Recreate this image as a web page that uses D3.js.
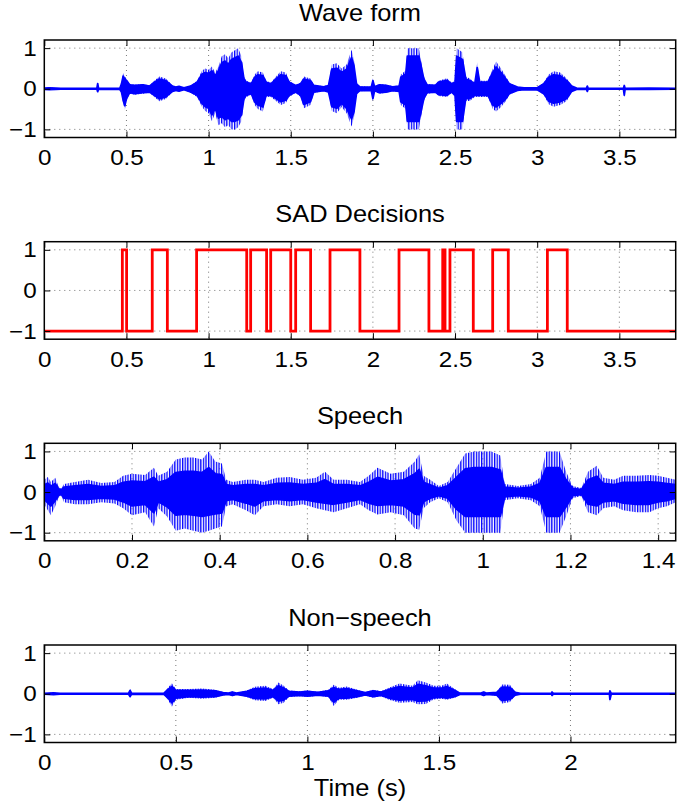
<!DOCTYPE html>
<html><head><meta charset="utf-8">
<script src="https://cdn.jsdelivr.net/npm/d3@7"></script>
<style>
html,body{margin:0;padding:0;background:#fff;}
svg{display:block;}
text{font-family:"Liberation Sans",Arial,Helvetica,sans-serif;fill:#000;}
</style></head>
<body><svg id="chart" width="677" height="807"></svg>
<script>
// ---------------- DATA ----------------
const titles = ["Wave form", "SAD Decisions", "Speech", "Non\u2212speech"];
const xMax = [3.843, 3.843, 1.44, 2.40];
const xTicks1 = [0, 0.5, 1, 1.5, 2, 2.5, 3, 3.5];
const xTicks2 = [0, 0.5, 1, 1.5, 2, 2.5, 3, 3.5];
const xTicks3 = [0, 0.2, 0.4, 0.6, 0.8, 1, 1.2, 1.4];
const xTicks4 = [0, 0.5, 1, 1.5, 2];
const yTicks = [-1, 0, 1];
const xLabel = "Time (s)";

// Wave form envelope (time, upper, lower)
const waveT  = [0,0.03,0.07,0.10,0.32,0.325,0.33,0.46,0.47,0.48,0.49,0.50,0.52,0.55,0.60,0.64,0.67,0.70,0.74,0.78,0.80,0.82,0.85,0.89,0.93,0.96,0.98,1.00,1.02,1.04,1.06,1.08,1.10,1.12,1.14,1.16,1.18,1.20,1.215,1.23,1.26,1.28,1.30,1.33,1.35,1.38,1.41,1.44,1.47,1.49,1.53,1.56,1.58,1.62,1.64,1.70,1.73,1.75,1.78,1.81,1.84,1.87,1.885,1.90,1.92,1.99,2.00,2.01,2.04,2.08,2.12,2.16,2.17,2.20,2.21,2.28,2.31,2.33,2.38,2.40,2.45,2.48,2.50,2.51,2.545,2.565,2.59,2.62,2.635,2.65,2.70,2.73,2.75,2.78,2.81,2.83,2.88,2.92,3.00,3.04,3.07,3.10,3.14,3.18,3.21,3.24,3.30,3.305,3.31,3.525,3.53,3.535,3.68,3.843];
const waveUp = [0.02,0.03,0.02,0.01,0.01,0.16,0.01,0.01,0.15,0.39,0.30,0.25,0.12,0.10,0.12,0.08,0.20,0.30,0.25,0.08,0.05,0.07,0.03,0.08,0.20,0.45,0.50,0.47,0.55,0.40,0.55,0.80,0.85,0.75,0.90,0.95,1.00,0.80,0.30,0.20,0.15,0.35,0.43,0.40,0.20,0.15,0.30,0.43,0.40,0.20,0.10,0.15,0.30,0.25,0.10,0.06,0.10,0.60,0.63,0.50,0.60,0.96,0.70,0.15,0.06,0.05,0.25,0.06,0.12,0.10,0.06,0.08,0.35,0.45,1.00,1.00,0.30,0.12,0.10,0.20,0.26,0.15,0.20,1.00,0.90,0.30,0.25,0.15,0.65,0.20,0.20,0.50,0.67,0.50,0.30,0.15,0.05,0.03,0.03,0.15,0.35,0.43,0.40,0.25,0.08,0.02,0.01,0.08,0.01,0.01,0.10,0.01,0.02,0.01];
const waveLo = [-0.02,-0.03,-0.02,-0.01,-0.01,-0.09,-0.01,-0.02,-0.10,-0.35,-0.52,-0.30,-0.12,-0.15,-0.12,-0.10,-0.20,-0.31,-0.25,-0.08,-0.05,-0.07,-0.03,-0.10,-0.20,-0.45,-0.55,-0.60,-0.80,-0.60,-0.90,-0.85,-0.95,-0.90,-1.00,-1.00,-0.95,-0.80,-0.30,-0.20,-0.15,-0.40,-0.50,-0.56,-0.20,-0.20,-0.30,-0.40,-0.35,-0.20,-0.10,-0.20,-0.48,-0.40,-0.10,-0.06,-0.10,-0.55,-0.60,-0.45,-0.60,-0.93,-0.70,-0.15,-0.06,-0.05,-0.30,-0.06,-0.12,-0.10,-0.06,-0.08,-0.40,-0.50,-1.00,-1.00,-0.30,-0.12,-0.10,-0.18,-0.20,-0.10,-0.20,-1.00,-1.00,-0.30,-0.30,-0.20,-0.20,-0.20,-0.20,-0.50,-0.56,-0.45,-0.30,-0.15,-0.05,-0.03,-0.03,-0.15,-0.38,-0.44,-0.40,-0.30,-0.08,-0.02,-0.01,-0.08,-0.01,-0.01,-0.20,-0.01,-0.02,-0.01];

// SAD decisions (step changes)
const sadT = [0,0.475,0.501,0.657,0.749,0.927,1.232,1.256,1.353,1.378,1.500,1.530,1.621,1.739,1.921,2.159,2.341,2.425,2.439,2.469,2.611,2.729,2.824,3.062,3.183,3.843];
const sadV = [-1,1,-1,1,-1,1,-1,1,-1,1,-1,1,-1,1,-1,1,-1,1,-1,1,-1,1,-1,1,-1,-1];

// Speech envelope
const speechT  = [0,0.008,0.015,0.025,0.032,0.038,0.045,0.07,0.10,0.13,0.16,0.18,0.20,0.23,0.25,0.26,0.28,0.30,0.32,0.34,0.36,0.375,0.39,0.405,0.415,0.43,0.46,0.48,0.50,0.53,0.56,0.59,0.62,0.64,0.66,0.69,0.72,0.74,0.76,0.79,0.82,0.845,0.855,0.865,0.88,0.90,0.92,0.94,0.96,0.98,1.02,1.04,1.05,1.08,1.11,1.13,1.145,1.175,1.19,1.205,1.225,1.24,1.26,1.275,1.30,1.32,1.35,1.38,1.40,1.42,1.44];
const speechUp = [0.30,0.37,0.25,0.35,0.15,0.08,0.20,0.25,0.30,0.22,0.25,0.40,0.45,0.42,0.60,0.40,0.50,0.80,0.85,0.85,0.80,1.00,0.75,0.70,0.30,0.25,0.30,0.30,0.25,0.35,0.37,0.30,0.35,0.50,0.30,0.30,0.25,0.40,0.60,0.45,0.50,0.75,0.93,0.40,0.30,0.15,0.25,0.60,0.95,1.00,1.00,0.90,0.20,0.15,0.20,0.35,1.00,1.00,0.50,0.15,0.10,0.50,0.65,0.35,0.30,0.40,0.40,0.42,0.40,0.35,0.30];
const speechLo = [-0.30,-0.45,-0.57,-0.35,-0.15,-0.08,-0.25,-0.30,-0.30,-0.25,-0.28,-0.40,-0.57,-0.50,-0.85,-0.40,-0.60,-0.95,-0.90,-0.95,-1.00,-0.95,-0.90,-0.85,-0.35,-0.30,-0.45,-0.57,-0.35,-0.30,-0.35,-0.30,-0.40,-0.45,-0.50,-0.40,-0.30,-0.45,-0.55,-0.50,-0.57,-0.90,-0.93,-0.40,-0.25,-0.15,-0.25,-0.70,-1.00,-1.00,-1.00,-1.00,-0.20,-0.15,-0.20,-0.35,-1.00,-1.00,-0.60,-0.15,-0.10,-0.50,-0.57,-0.40,-0.35,-0.45,-0.50,-0.50,-0.40,-0.35,-0.25];

// Non-speech envelope
const nonT  = [0,0.035,0.06,0.32,0.326,0.332,0.455,0.47,0.485,0.50,0.55,0.60,0.65,0.68,0.70,0.715,0.73,0.77,0.80,0.84,0.87,0.89,0.91,0.93,0.97,1.00,1.04,1.08,1.10,1.12,1.15,1.19,1.22,1.25,1.28,1.31,1.35,1.40,1.42,1.45,1.48,1.51,1.53,1.56,1.58,1.66,1.67,1.68,1.72,1.74,1.77,1.79,1.81,1.928,1.93,1.935,2.148,2.15,2.155,2.40];
const nonUp = [0.01,0.03,0.01,0.01,0.12,0.01,0.02,0.15,0.26,0.12,0.12,0.13,0.10,0.04,0.02,0.06,0.02,0.08,0.17,0.20,0.12,0.28,0.20,0.08,0.06,0.08,0.05,0.10,0.22,0.15,0.18,0.10,0.04,0.10,0.06,0.15,0.25,0.20,0.33,0.28,0.20,0.20,0.25,0.12,0.02,0.02,0.06,0.02,0.05,0.23,0.22,0.05,0.01,0.01,0.06,0.01,0.01,0.10,0.01,0.01];
const nonLo = [-0.01,-0.03,-0.01,-0.01,-0.10,-0.01,-0.02,-0.15,-0.32,-0.15,-0.10,-0.12,-0.10,-0.04,-0.02,-0.06,-0.02,-0.08,-0.16,-0.18,-0.10,-0.26,-0.22,-0.08,-0.06,-0.08,-0.05,-0.08,-0.30,-0.15,-0.15,-0.10,-0.04,-0.10,-0.06,-0.15,-0.22,-0.20,-0.26,-0.25,-0.14,-0.12,-0.15,-0.10,-0.02,-0.02,-0.06,-0.02,-0.05,-0.24,-0.20,-0.05,-0.01,-0.01,-0.06,-0.01,-0.01,-0.20,-0.01,-0.01];

// ---------------- DRAW ----------------
const svg = d3.select("#chart");
const left = 44.3, right = 675.7, plotH = 97.5;
const tops = [40, 241.7, 443.3, 645];
const xTicksAll = [xTicks1, xTicks2, xTicks3, xTicks4];
const tickLen = 6;
const FONT = '"Liberation Sans",Arial,Helvetica,sans-serif';

// stripe pattern used for the outer (spiky) part of the dense waveforms
const defs = svg.append("defs");
const pat = defs.append("pattern").attr("id", "spikes").attr("patternUnits", "userSpaceOnUse")
  .attr("width", 2.6).attr("height", 10);
pat.append("rect").attr("x", 0).attr("y", 0).attr("width", 1.3).attr("height", 10).attr("fill", "#0000ff");

function fmt(v){ return v < 0 ? "\u2212" + Math.abs(v) : String(v); }

function panel(i, drawData){
  const top = tops[i], bottom = top + plotH;
  const x = d3.scaleLinear().domain([0, xMax[i]]).range([left, right]);
  const y = d3.scaleLinear().domain([-1.2, 1.2]).range([bottom, top]);
  const g = svg.append("g");
  const cid = "clip" + i;
  defs.append("clipPath").attr("id", cid).append("rect")
    .attr("x", left).attr("y", top).attr("width", right-left).attr("height", plotH);
  // grid
  const grid = g.append("g").attr("stroke", "#555").attr("stroke-width", 0.8)
    .attr("stroke-dasharray", "1,4");
  xTicksAll[i].forEach(t => {
    if (t === 0) return;
    grid.append("line").attr("x1", x(t)).attr("x2", x(t)).attr("y1", top).attr("y2", bottom);
  });
  yTicks.forEach(t => {
    grid.append("line").attr("x1", left).attr("x2", right).attr("y1", y(t)).attr("y2", y(t));
  });
  // data
  const dg = g.append("g").attr("clip-path", `url(#${cid})`);
  drawData(dg, x, y);
  // axes
  const xb = d3.axisBottom(x).tickValues(xTicksAll[i]).tickSize(-tickLen).tickPadding(12).tickFormat(fmt);
  const xt = d3.axisTop(x).tickValues(xTicksAll[i]).tickSize(-tickLen).tickFormat("");
  const yl = d3.axisLeft(y).tickValues(yTicks).tickSize(-tickLen).tickPadding(7).tickFormat(fmt);
  const yr = d3.axisRight(y).tickValues(yTicks).tickSize(-tickLen).tickFormat("");
  [[xb, `translate(0,${bottom})`],[xt, `translate(0,${top})`],[yl, `translate(${left},0)`],[yr, `translate(${right},0)`]]
    .forEach(([ax, tr]) => {
      const a = g.append("g").attr("transform", tr).call(ax);
      a.select(".domain").remove();
      a.selectAll("line").attr("stroke", "#000").attr("stroke-width", 1);
      a.selectAll("text").attr("font-size", 22).attr("font-family", FONT).attr("fill", "#000")
        .attr("transform", "scale(1.1,1)");
    });
  // box
  g.append("rect").attr("x", left).attr("y", top).attr("width", right-left).attr("height", plotH)
    .attr("fill", "none").attr("stroke", "#000").attr("stroke-width", 1.5);
  // title
  g.append("text").attr("transform", `translate(${(left+right)/2},${top - 19.5}) scale(1.06,1)`)
    .attr("text-anchor", "middle").attr("font-size", 24).text(titles[i]);
  return {x, y, bottom};
}

function envelope(T, U, L, spiky){
  return function(dg, x, y){
    const data = T.map((t, k) => ({t, u: U[k], l: L[k]}));
    const outer = d3.area().x(d => x(d.t)).y0(d => y(d.l)).y1(d => y(d.u));
    const core = d3.area().x(d => x(d.t)).y0(d => y(d.l * spiky)).y1(d => y(d.u * spiky));
    dg.append("path").datum(data).attr("d", outer)
      .attr("fill", "url(#spikes)").attr("stroke", "none");
    dg.append("path").datum(data).attr("d", core)
      .attr("fill", "#0000ff").attr("stroke", "#0000ff").attr("stroke-width", 1.8)
      .attr("stroke-linejoin", "round");
  };
}

panel(0, envelope(waveT, waveUp, waveLo, 0.8));
panel(1, function(dg, x, y){
  const data = sadT.map((t, k) => ({t, v: sadV[k]}));
  const line = d3.line().x(d => x(d.t)).y(d => y(d.v)).curve(d3.curveStepAfter);
  dg.append("path").datum(data).attr("d", line)
    .attr("fill", "none").attr("stroke", "#ff0000").attr("stroke-width", 2.8);
});
panel(2, envelope(speechT, speechUp, speechLo, 0.6));
panel(3, envelope(nonT, nonUp, nonLo, 0.7));

svg.append("text").attr("transform", `translate(${(left+right)/2},796) scale(1.06,1)`)
  .attr("text-anchor", "middle").attr("font-size", 24).text(xLabel);
</script></body></html>
